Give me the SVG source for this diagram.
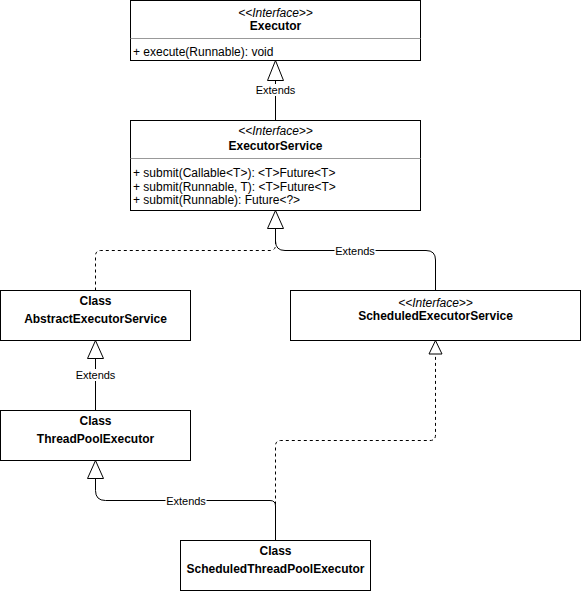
<svg xmlns="http://www.w3.org/2000/svg" width="581" height="591" viewBox="0 0 581 591">
<style>
.box{fill:#fff;stroke:#000;stroke-width:1}
.div{stroke:#999;stroke-width:1}
.t{font-family:"Liberation Sans",Arial,sans-serif;font-size:12px;fill:#000}
.c{text-anchor:middle}
.b{font-weight:bold}
.i{font-style:italic}
.lbl{font-family:"Liberation Sans",Arial,sans-serif;font-size:11px;fill:#000;text-anchor:middle}
.ln{fill:none;stroke:#000;stroke-width:1}
.dash{stroke-dasharray:3 3}
.tri{fill:#fff;stroke:#000;stroke-width:1}
.lb{fill:#fff}
</style>
<rect width="581" height="591" fill="#fff"/>
<g id="connectors">
<path class="ln" d="M275.5 120.5 V80.5"/>
<path class="tri" d="M275.5 60.5 L283.5 80.5 L267.5 80.5 Z"/>
<path class="ln dash" d="M95.5 290.5 V256 Q95.5 250.5 101 250.5 H270 Q275.5 250.5 275.5 245 V230"/>
<path class="ln" d="M435.5 290.5 V260 Q435.5 250.5 426 250.5 H285 Q275.5 250.5 275.5 241 V228.5"/>
<path class="tri" d="M275.5 210.5 L283.5 228.5 L267.5 228.5 Z"/>
<path class="ln" d="M95.5 410.5 V358.5"/>
<path class="tri" d="M95.5 340.5 L103.5 358.5 L87.5 358.5 Z"/>
<path class="ln dash" d="M275.5 540.5 V446 Q275.5 440.5 281 440.5 H430 Q435.5 440.5 435.5 435 V354"/>
<path class="tri" d="M435.5 340.5 L442 354 L429 354 Z"/>
<path class="ln" d="M275.5 540.5 V506 Q275.5 500.5 270 500.5 H105.5 Q95.5 500.5 95.5 490.5 V478.5"/>
<path class="tri" d="M95.5 460.5 L103.5 478.5 L87.5 478.5 Z"/>
<rect class="lb" x="255" y="84" width="41" height="12"/>
<text class="lbl" x="275.5" y="94">Extends</text>
<rect class="lb" x="334.5" y="244.5" width="41" height="12"/>
<text class="lbl" x="355" y="254.5">Extends</text>
<rect class="lb" x="75" y="369" width="41" height="12"/>
<text class="lbl" x="95.5" y="379">Extends</text>
<rect class="lb" x="165.5" y="494.5" width="41" height="12"/>
<text class="lbl" x="186" y="504.5">Extends</text>
</g>
<g id="executor">
<rect class="box" x="130.5" y="0.5" width="290" height="60"/>
<line class="div" x1="130.5" y1="38.5" x2="420.5" y2="38.5"/>
<text class="t c i" x="275.5" y="17">&lt;&lt;Interface&gt;&gt;</text>
<text class="t c b" x="275.5" y="30">Executor</text>
<text class="t" x="133" y="56">+ execute(Runnable): void</text>
</g>
<g id="executorService">
<rect class="box" x="130.5" y="120.5" width="290" height="90"/>
<line class="div" x1="130.5" y1="158.5" x2="420.5" y2="158.5"/>
<text class="t c i" x="275.5" y="135">&lt;&lt;Interface&gt;&gt;</text>
<text class="t c b" x="275.5" y="150">ExecutorService</text>
<text class="t" x="133" y="177">+ submit(Callable&lt;T&gt;): &lt;T&gt;Future&lt;T&gt;</text>
<text class="t" x="133" y="190.5">+ submit(Runnable, T): &lt;T&gt;Future&lt;T&gt;</text>
<text class="t" x="133" y="204">+ submit(Runnable): Future&lt;?&gt;</text>
</g>
<g id="abstractExecutorService">
<rect class="box" x="0.5" y="290.5" width="190" height="50"/>
<text class="t c b" x="95.5" y="305">Class</text>
<text class="t c b" x="95.5" y="323">AbstractExecutorService</text>
</g>
<g id="scheduledExecutorService">
<rect class="box" x="290.5" y="290.5" width="290" height="50"/>
<text class="t c i" x="435.5" y="307">&lt;&lt;Interface&gt;&gt;</text>
<text class="t c b" x="435.5" y="320">ScheduledExecutorService</text>
</g>
<g id="threadPoolExecutor">
<rect class="box" x="0.5" y="410.5" width="190" height="50"/>
<text class="t c b" x="95.5" y="425">Class</text>
<text class="t c b" x="95.5" y="443">ThreadPoolExecutor</text>
</g>
<g id="scheduledThreadPoolExecutor">
<rect class="box" x="180.5" y="540.5" width="190" height="50"/>
<text class="t c b" x="275.5" y="555">Class</text>
<text class="t c b" x="275.5" y="573">ScheduledThreadPoolExecutor</text>
</g>
</svg>
